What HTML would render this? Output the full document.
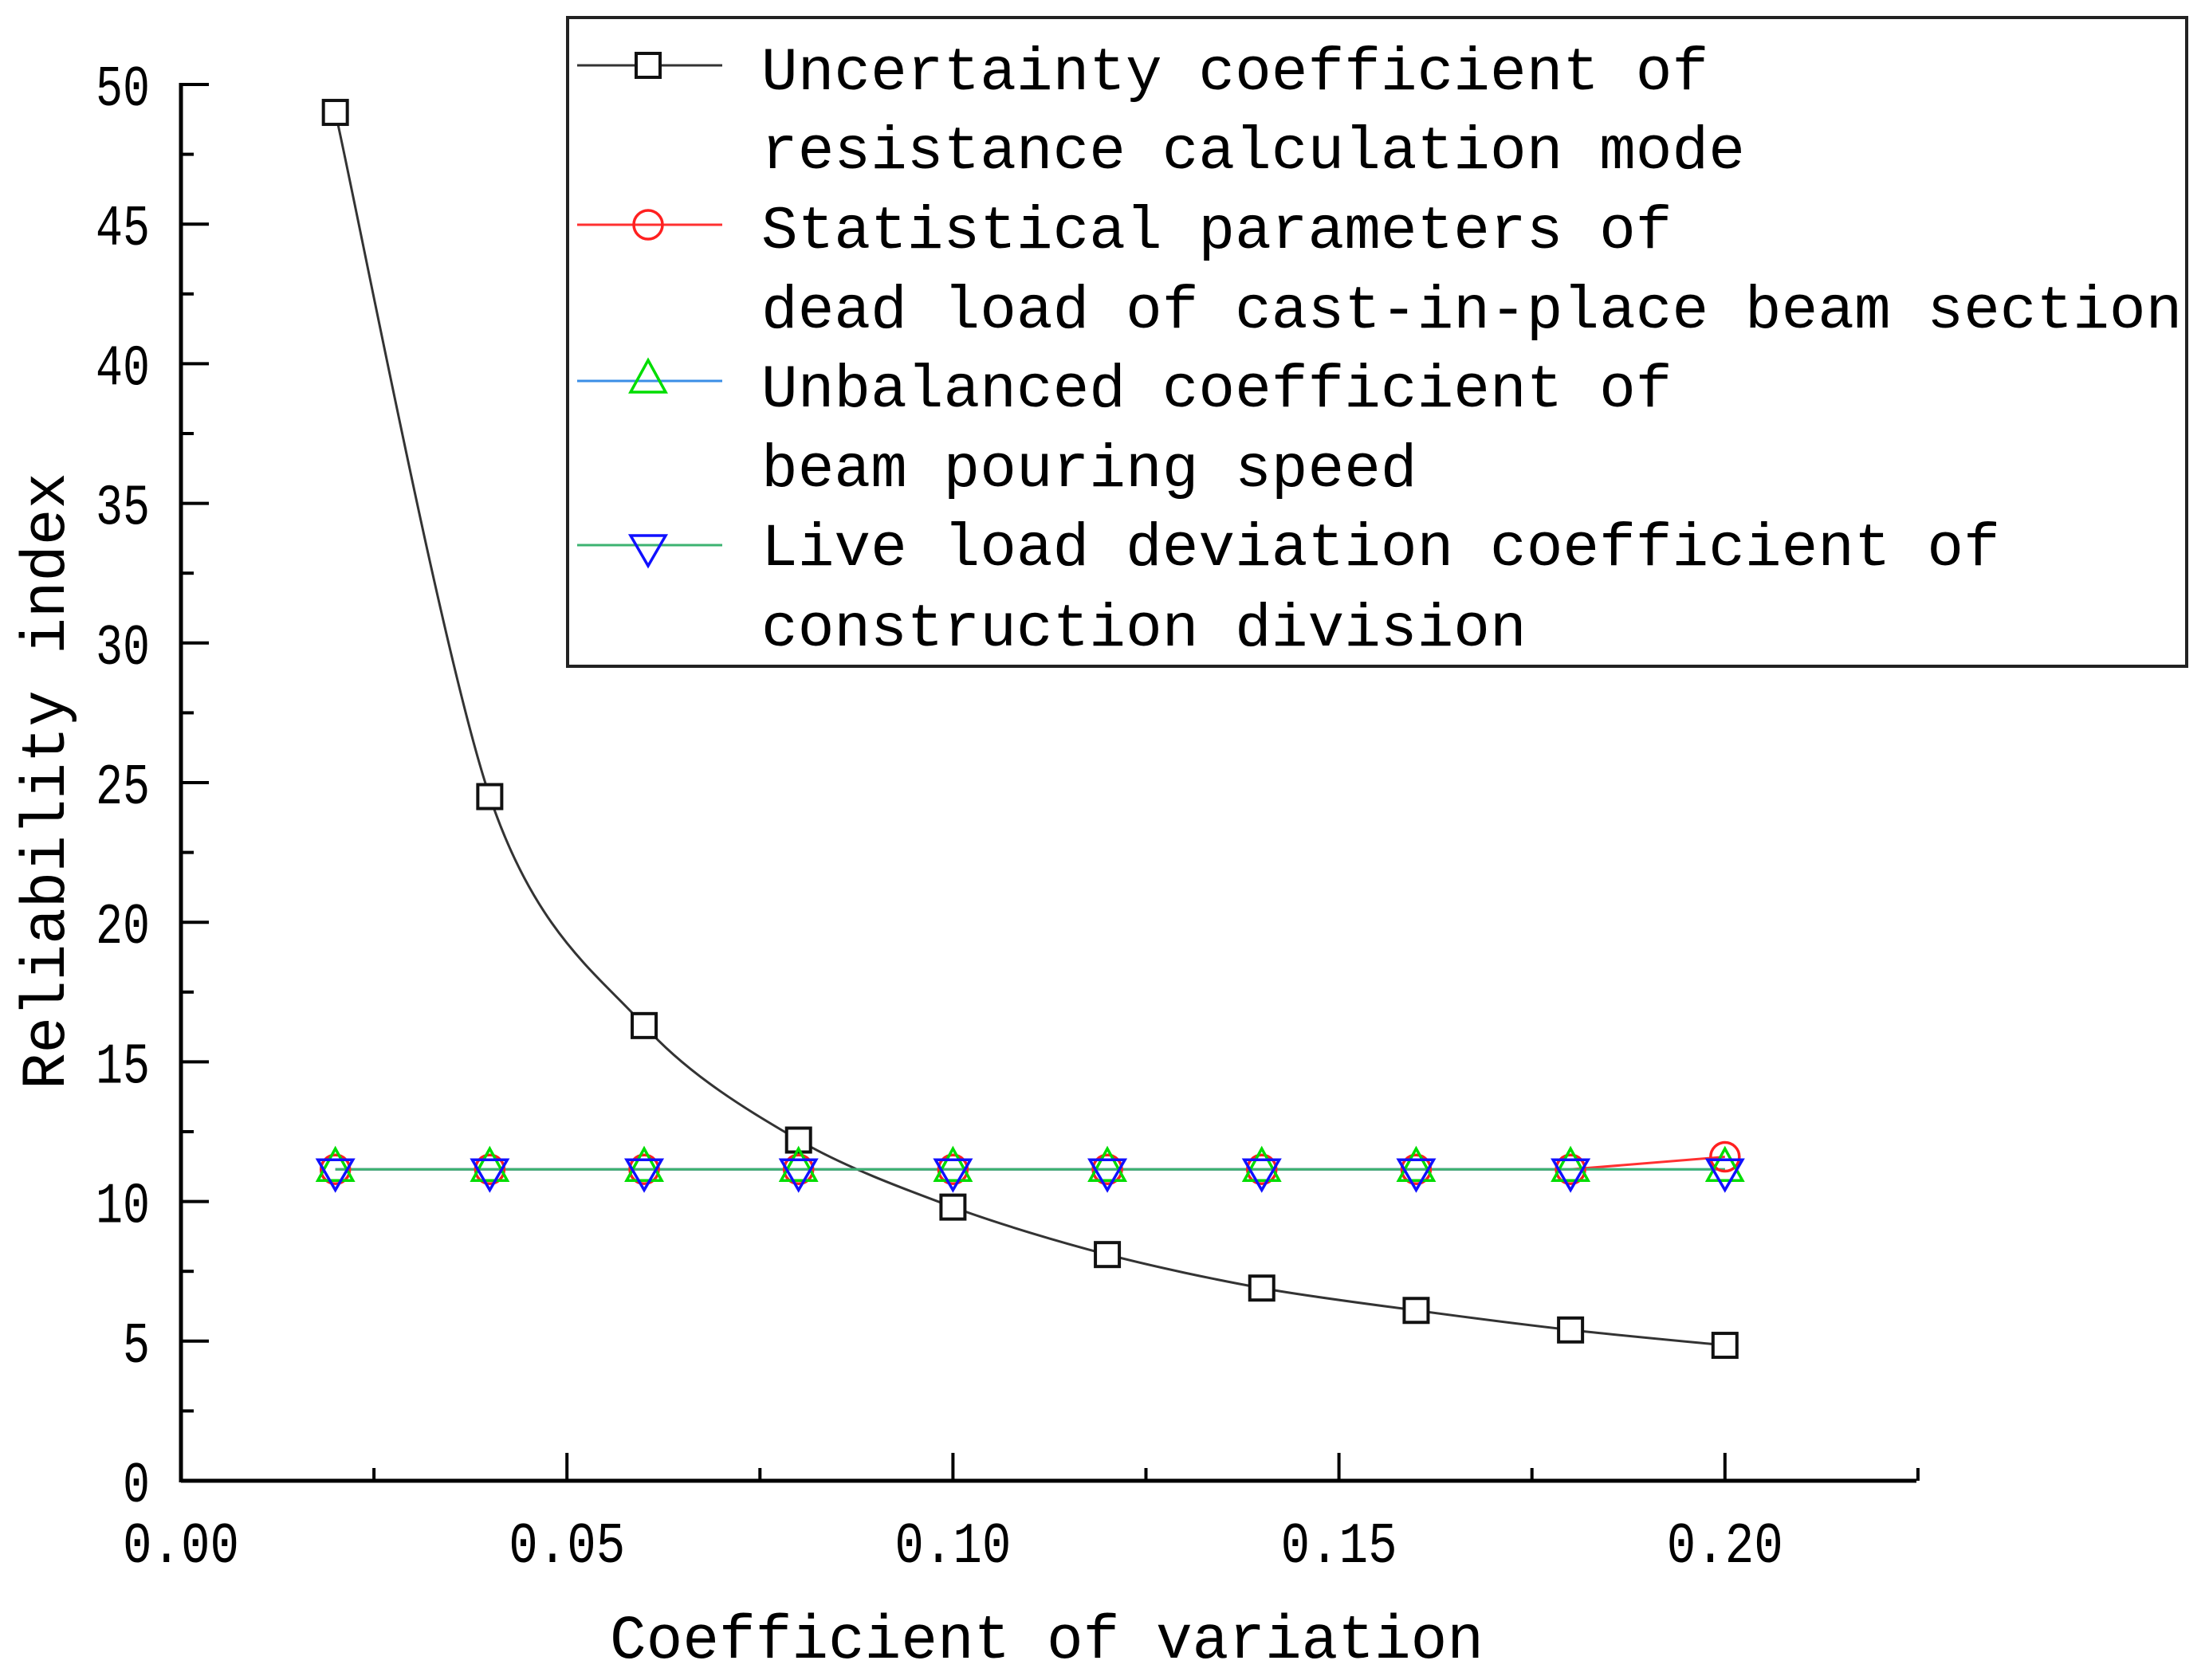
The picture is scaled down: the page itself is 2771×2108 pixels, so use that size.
<!DOCTYPE html>
<html><head><meta charset="utf-8"><style>
html,body{margin:0;padding:0;background:#fff;}
svg{display:block;}
text{font-family:"Liberation Mono","Liberation Serif",serif;fill:#000;}
</style></head><body>
<svg id="chart" width="2771" height="2108" viewBox="0 0 2771 2108" xmlns="http://www.w3.org/2000/svg">
<g id="axes"></g>
<g id="series"></g>
<g id="legend"></g>
</svg>
<script>
const xValues = [0.02,0.04,0.06,0.08,0.10,0.12,0.14,0.16,0.18,0.20];
const resistanceMode = [49.0,24.5,16.3,12.2,9.8,8.1,6.9,6.1,5.4,4.85];
const deadLoadParams = [11.15,11.15,11.15,11.15,11.15,11.15,11.15,11.15,11.15,11.6];
const pouringSpeed = [11.15,11.15,11.15,11.15,11.15,11.15,11.15,11.15,11.15,11.15];
const liveLoadDeviation = [11.15,11.15,11.15,11.15,11.15,11.15,11.15,11.15,11.15,11.15];
const xTickValues = [0,0.05,0.10,0.15,0.20];
const xTickLabels = ["0.00","0.05","0.10","0.15","0.20"];
const yTickValues = [0,5,10,15,20,25,30,35,40,45,50];
const yTickLabels = ["0","5","10","15","20","25","30","35","40","45","50"];
const legendLabels = [["Uncertainty coefficient of","resistance calculation mode"],["Statistical parameters of","dead load of cast-in-place beam section"],["Unbalanced coefficient of","beam pouring speed"],["Live load deviation coefficient of","construction division"]];

const NS="http://www.w3.org/2000/svg";
const X0=227, XPER=484.2/0.05, Y0=1858, YPER=35.04;
const sx=v=>X0+v*XPER, sy=v=>Y0-v*YPER;
function mk(tag,attrs,parent){const e=document.createElementNS(NS,tag);for(const k in attrs)e.setAttribute(k,attrs[k]);parent.appendChild(e);return e;}
const axes=document.getElementById('axes'), ser=document.getElementById('series'), leg=document.getElementById('legend');

let a=mk('line',{x1:X0,y1:Y0,x2:2404,y2:Y0,stroke:'#000','stroke-width':5},axes);


a=mk('line',{x1:X0,y1:Y0+2,x2:X0,y2:104,stroke:'#000','stroke-width':5},axes);


for(let v=0;v<=0.2251;v+=0.025){
  const major=Math.abs(v/0.05-Math.round(v/0.05))<1e-6;
  const t=mk('line',{x1:sx(v),y1:Y0,x2:sx(v),y2:Y0-(major?35:16),stroke:'#000','stroke-width':4},axes);
  
  
}
xTickValues.forEach((v,i)=>{
  const t=mk('text',{x:sx(v),y:1960,'font-size':72,'text-anchor':'middle',textLength:146,lengthAdjust:'spacingAndGlyphs'},axes);
  t.textContent=xTickLabels[i];
  
  
});
for(let v=0;v<=50.01;v+=2.5){
  const major=Math.abs(v/5-Math.round(v/5))<1e-6;
  const t=mk('line',{x1:X0,y1:sy(v),x2:X0+(major?35:16),y2:sy(v),stroke:'#000','stroke-width':4},axes);
  
  
}
yTickValues.forEach((v,i)=>{
  const t=mk('text',{x:188,y:sy(v)+26,'font-size':72,'text-anchor':'end',textLength:yTickLabels[i].length*34,lengthAdjust:'spacingAndGlyphs'},axes);
  t.textContent=yTickLabels[i];
  
  
});
let tt=mk('text',{x:765,y:2080,'font-size':78,textLength:1096,lengthAdjust:'spacingAndGlyphs'},axes);
tt.textContent='Coefficient of variation';


tt=mk('text',{x:0,y:0,'font-size':78,'text-anchor':'middle',textLength:774,lengthAdjust:'spacingAndGlyphs',transform:'translate(80,980) rotate(-90)'},axes);
tt.textContent='Reliability index';



function marker(type,cx,cy,color,parent){
  let m;
  if(type==='square') m=mk('rect',{x:cx-15,y:cy-15,width:30,height:30,fill:'#fff',stroke:color,'stroke-width':4},parent);
  else if(type==='circle') m=mk('circle',{cx:cx,cy:cy,r:18,fill:'none',stroke:color,'stroke-width':3.5},parent);
  else if(type==='up') m=mk('polygon',{points:`${cx},${cy-26} ${cx+22},${cy+14} ${cx-22},${cy+14}`,fill:'none',stroke:color,'stroke-width':3.5},parent);
  else m=mk('polygon',{points:`${cx-22},${cy-12} ${cx+22},${cy-12} ${cx},${cy+26}`,fill:'none',stroke:color,'stroke-width':3.5},parent);
  return m;
}
function smoothPath(pts){
  let d=`M${pts[0][0]},${pts[0][1]}`;
  for(let i=0;i<pts.length-1;i++){
    const p0=pts[Math.max(0,i-1)],p1=pts[i],p2=pts[i+1],p3=pts[Math.min(pts.length-1,i+2)];
    const t=0.3;
    let c1=[p1[0]+(p2[0]-p0[0])*t/1.0*0.5,p1[1]+(p2[1]-p0[1])*t*0.5];
    let c2=[p2[0]-(p3[0]-p1[0])*t*0.5,p2[1]-(p3[1]-p1[1])*t*0.5];
    c1[1]=Math.min(Math.max(c1[1],Math.min(p1[1],p2[1])),Math.max(p1[1],p2[1]));
    c2[1]=Math.min(Math.max(c2[1],Math.min(p1[1],p2[1])),Math.max(p1[1],p2[1]));
    d+=` C${c1[0]},${c1[1]} ${c2[0]},${c2[1]} ${p2[0]},${p2[1]}`;
  }
  return d;
}
const seriesDefs=[
 {name:'resistance-mode',data:resistanceMode,line:'#333',mk:'square',mc:'#111',smooth:true},
 {name:'dead-load-params',data:deadLoadParams,line:'#ff3030',mk:'circle',mc:'#ff2020'},
 {name:'pouring-speed',data:pouringSpeed,line:'#3a8ee6',mk:'up',mc:'#00dd00'},
 {name:'live-load-deviation',data:liveLoadDeviation,line:'#3cb371',mk:'down',mc:'#1010ff'}
];
seriesDefs.forEach(s=>{
  const g=mk('g',{},ser);
  
  
  const pts=xValues.map((x,i)=>[sx(x),sy(s.data[i])]);
  let pl;
  if(s.smooth) pl=mk('path',{d:smoothPath(pts),fill:'none',stroke:s.line,'stroke-width':3},g);
  else pl=mk('polyline',{points:pts.map(p=>p.join(',')).join(' '),fill:'none',stroke:s.line,'stroke-width':3},g);
  
  
});
seriesDefs.forEach(s=>{
  xValues.forEach((x,i)=>{
    const m=marker(s.mk,sx(x),sy(s.data[i]),s.mc,ser);
    
    
  });
});
const box=mk('rect',{x:712,y:22,width:2031,height:814,fill:'#fff',stroke:'#222','stroke-width':4},leg);


const symY=[82,282,478,684], textY=[[112,211],[311,411],[510,610],[709,810]];
seriesDefs.forEach((s,i)=>{
  const g=mk('g',{},leg);
  
  
  const l=mk('line',{x1:724,y1:symY[i],x2:906,y2:symY[i],stroke:s.line,'stroke-width':3},g);
  
  
  const m=marker(s.mk,813,symY[i],s.mc,g);
  
  
  legendLabels[i].forEach((txt,j)=>{
    const t=mk('text',{x:955,y:textY[i][j],'font-size':76,textLength:txt.length*45.7,lengthAdjust:'spacingAndGlyphs'},g);
    t.textContent=txt;
    
    
  });
});
</script>
</body></html>
